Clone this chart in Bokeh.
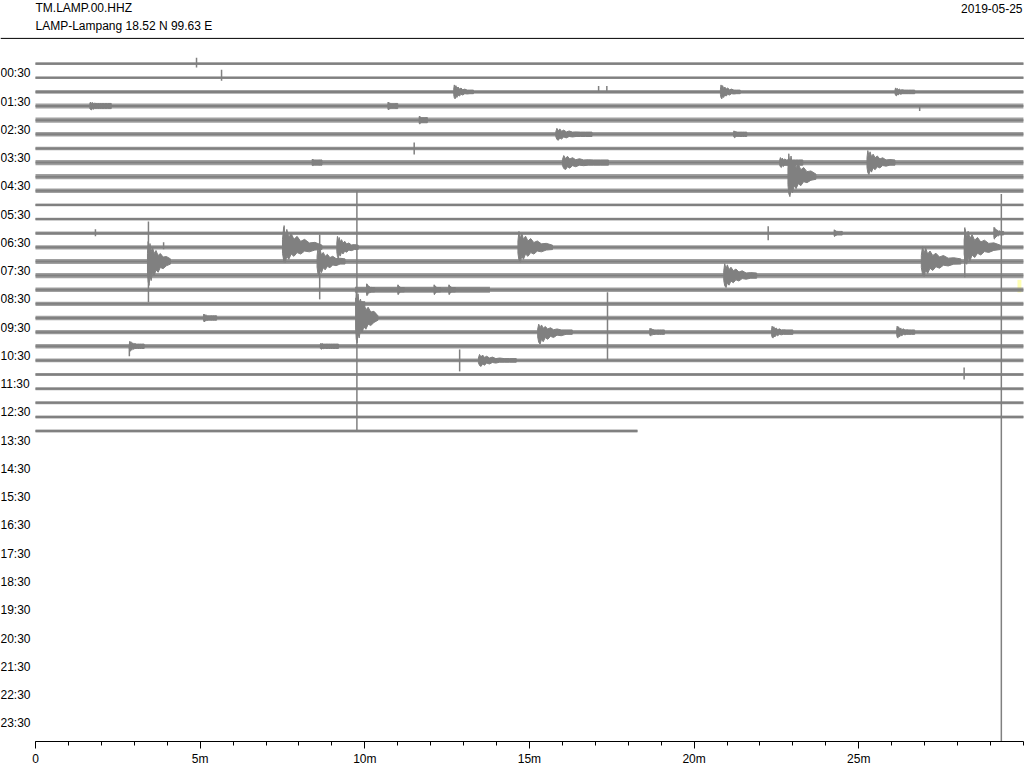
from bokeh.plotting import figure
from bokeh.models import Range1d, FixedTicker, Span, CustomJSTickFormatter
from bokeh.core.properties import value
from bokeh.embed import file_html
from bokeh.resources import INLINE

# ---------------- data ----------------
station = "TM.LAMP.00.HHZ"
site = "LAMP-Lampang  18.52 N 99.63 E"
date = "2019-05-25"
hour_labels = [f"{h:02d}:30" for h in range(24)]
x_ticks = [0, 5, 10, 15, 20, 25]
minor_x_ticks = list(range(0, 31))

# one row per 30 minutes (00:00 ... 13:00); background noise half-amplitude per row
noise_amp = [1.3, 1.3, 1.8, 2.6, 2.6, 2.2, 1.8, 2.6, 2.6, 2.2, 1.4, 1.4, 1.8, 2.2,
             2.6, 2.6, 2.2, 2.2, 2.2, 2.2, 2.2, 1.8, 1.5, 1.5, 1.5, 1.5, 1.5]
row_end_min = [30] * 26 + [18.28]

# events (spindles): row, start minute, end minute, peak up, peak down
ev_row = [2, 2, 2, 3, 3, 4, 5, 5, 7, 7, 7, 7, 8, 12, 12, 13, 13, 13, 13, 14, 14, 14,
          15, 17, 18, 18, 19, 19, 19, 19, 20, 20, 21, 16, 16, 16, 16]
ev_t0 = [12.7, 20.8, 26.1, 1.65, 10.7, 11.65, 15.8, 21.2, 16.0, 22.6, 25.25, 8.4, 22.85,
         24.25, 29.1, 7.5, 9.15, 14.65, 28.2, 3.4, 8.55, 26.9, 20.9, 9.72, 9.72, 5.1,
         15.25, 18.65, 22.35, 26.15, 2.85, 8.65, 13.45, 10.05, 11.0, 12.1, 12.55]
ev_t1 = [13.3, 21.4, 26.7, 2.3, 11.0, 11.9, 16.9, 21.6, 17.4, 23.3, 26.1, 8.7, 23.7,
         24.5, 29.4, 8.7, 9.8, 15.7, 29.3, 4.1, 9.4, 28.1, 21.9, 10.0, 10.4, 5.5,
         16.3, 19.1, 23.0, 26.7, 3.3, 9.2, 14.6, 10.3, 11.2, 12.3, 12.75]
ev_up = [7, 7, 4, 4, 4, 4, 6, 3.5, 7, 5, 12, 3.5, 23, 3.5, 6, 20, 11, 16, 18, 20, 13, 15,
         12, 6, 27, 4, 8, 4, 6, 6, 5, 3, 6, 6, 5, 5, 5]
ev_down = [7, 7, 4, 4, 4, 4, 6, 3.5, 7, 5, 12, 3.5, 20, 3.5, 6, 15, 11, 15, 17, 24, 14, 15,
           12, 6, 25, 4, 12, 4, 6, 6, 5, 3, 6, 6, 5, 5, 5]

# long noisy stretches: row, start, end, amplitude
bu_row = [16]
bu_t0 = [9.7]
bu_t1 = [13.8]
bu_amp = [3.0]

# single spikes: row, minute, up, down
sp_row = [0, 1, 2, 2, 3, 6, 12, 12, 13, 13, 13, 14, 14, 16, 18, 19, 20, 21, 22]
sp_min = [4.89, 5.65, 17.1, 17.35, 26.85, 11.5, 1.82, 22.25, 3.89, 7.55, 28.22, 3.43,
          8.63, 29.33, 9.76, 17.37, 2.85, 12.88, 28.2]
sp_up = [6, 8, 6, 6, 1, 6, 4, 7, 5, 22, 20, 40, 27, 96, 128, 40, 1, 11, 7]
sp_down = [4, 3, 1, 1, 5, 6, 3, 7, 2, 15, 30, 41, 38, 460, 114, 28, 10, 11, 5]

# pick highlight (pale yellow mark): row span and minute span
hl_rows = (15.3, 16.2)
hl_mins = (29.82, 29.94)

# ---------------- layout ----------------
ROW_PX = 14.17          # screen distance between rows (amplitude unit)
PX_PER_MIN = 32.93
FIG_W, FIG_H = 1024, 768
BOTTOM_BORDER = 25
FRAME_W, FRAME_H = FIG_W, FIG_H - BOTTOM_BORDER
PAGE0 = 0
ROW0_PAGE_Y = 63.3
MIN0_PAGE_X = 35

x_start = -(MIN0_PAGE_X - PAGE0) / PX_PER_MIN
x_end = x_start + FRAME_W / PX_PER_MIN
k_top = (PAGE0 - ROW0_PAGE_Y) / ROW_PX
k_bot = (PAGE0 + FRAME_H - ROW0_PAGE_Y) / ROW_PX


def px_x(px):
    return x_start + (px - PAGE0) / PX_PER_MIN


def px_y(py):
    return (py - ROW0_PAGE_Y) / ROW_PX


GREY = "#808080"
FONT = "Liberation Sans"

p = figure(width=FIG_W, height=FIG_H, x_range=Range1d(x_start, x_end),
           y_range=Range1d(k_bot, k_top), output_backend="svg", toolbar_location=None,
           min_border_left=0, min_border_right=0, min_border_top=0,
           min_border_bottom=BOTTOM_BORDER, y_axis_location=None)
p.outline_line_color = None
p.xgrid.visible = False
p.ygrid.visible = False
p.background_fill_color = "white"
p.border_fill_color = "white"

ax = p.xaxis[0]
ax.ticker = FixedTicker(ticks=x_ticks, minor_ticks=minor_x_ticks)
ax.formatter = CustomJSTickFormatter(code="return tick == 0 ? '0' : tick + 'm';")
ax.bounds = (0, 30)
ax.major_tick_in = 0
ax.major_tick_out = 7
ax.minor_tick_in = 0
ax.minor_tick_out = 4
ax.major_label_standoff = 3
ax.major_label_text_font = FONT
ax.major_label_text_font_size = "12px"
ax.major_label_text_color = "black"
ax.axis_line_color = "black"
ax.major_tick_line_color = "black"
ax.minor_tick_line_color = "black"

rows = list(range(len(noise_amp)))
n_k = [a / ROW_PX for a in noise_amp]

# pick highlight
p.quad(left=[hl_mins[0]], right=[hl_mins[1]], top=[hl_rows[0]], bottom=[hl_rows[1]],
       fill_color="#ffffb3", line_color=None)

# noise band and trace core
p.quad(left=[0] * len(rows), right=row_end_min,
       top=[r - n for r, n in zip(rows, n_k)], bottom=[r + n for r, n in zip(rows, n_k)],
       fill_color=GREY, fill_alpha=0.75, line_color=None)
p.segment(x0=[0] * len(rows), y0=rows, x1=row_end_min, y1=rows, line_color=GREY, line_width=2)

# noisy stretches
p.quad(left=bu_t0, right=bu_t1,
       top=[r - a / ROW_PX for r, a in zip(bu_row, bu_amp)],
       bottom=[r + a / ROW_PX for r, a in zip(bu_row, bu_amp)],
       fill_color=GREY, fill_alpha=0.85, line_color=None)

# spindles: jagged envelope template (fraction of duration, fraction of peak)
shape_f = [0.0, 0.03, 0.07, 0.11, 0.16, 0.22, 0.29, 0.37, 0.46, 0.56, 0.68, 0.82, 1.0]
shape_e = [0.4, 1.0, 0.55, 0.9, 0.5, 0.7, 0.4, 0.55, 0.3, 0.4, 0.22, 0.25, 0.0]
shape_e2 = [0.4, 0.85, 1.0, 0.6, 0.8, 0.45, 0.6, 0.35, 0.45, 0.25, 0.3, 0.18, 0.0]
xs, ys = [], []
for r, t0, t1, u, d in zip(ev_row, ev_t0, ev_t1, ev_up, ev_down):
    n = noise_amp[r]
    dur = t1 - t0
    tx = [t0 + f * dur for f in shape_f]
    top = [r - max(n, e * u) / ROW_PX for e in shape_e]
    bot = [r + max(n, e * d) / ROW_PX for e in shape_e2]
    xs.append(tx + tx[::-1])
    ys.append(top + bot[::-1])
p.patches(xs=xs, ys=ys, fill_color=GREY, line_color=GREY, line_width=1)

# spikes
p.segment(x0=sp_min, x1=sp_min,
          y0=[r - u / ROW_PX for r, u in zip(sp_row, sp_up)],
          y1=[r + d / ROW_PX for r, d in zip(sp_row, sp_down)],
          line_color=GREY, line_width=1.5)

# hour labels
p.text(x=[px_x(0)] * 24, y=[2 * h + 1 - 0.32 for h in range(24)], text=hour_labels,
       text_font=value(FONT), text_font_size="12px", text_color="black",
       text_align="left", text_baseline="middle")

# header
p.text(x=[px_x(35), px_x(35)], y=[px_y(8), px_y(26)], text=[station, site],
       text_font=value(FONT), text_font_size="12px", text_color="black",
       text_align="left", text_baseline="middle")
p.text(x=[px_x(1022)], y=[px_y(8)], text=[date],
       text_font=value(FONT), text_font_size="12px", text_color="black",
       text_align="right", text_baseline="middle")
p.add_layout(Span(location=px_y(38), dimension="width", line_color="black", line_width=1))

open("out.html", "w").write(file_html(p, INLINE))
